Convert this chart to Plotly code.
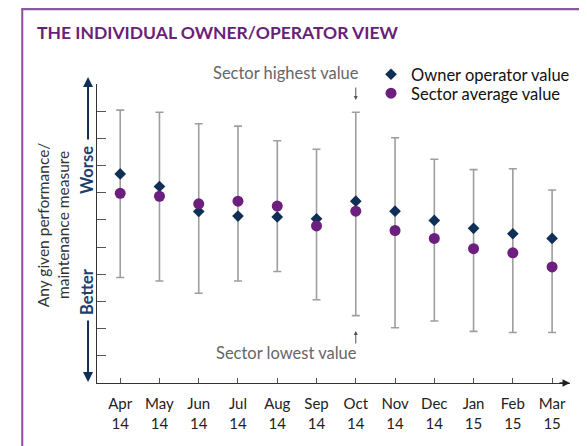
import plotly.graph_objects as go

# ---- data ----
months = ["Apr<br>14", "May<br>14", "Jun<br>14", "Jul<br>14", "Aug<br>14", "Sep<br>14",
          "Oct<br>14", "Nov<br>14", "Dec<br>14", "Jan<br>15", "Feb<br>15", "Mar<br>15"]
sector_high = [10.04, 9.96, 9.54, 9.45, 8.91, 8.60, 9.96, 9.02, 8.23, 7.85, 7.88, 7.10]
sector_low = [3.88, 3.75, 3.30, 3.75, 4.10, 3.06, 2.48, 2.03, 2.28, 1.90, 1.86, 1.86]
owner_value = [7.69, 7.23, 6.31, 6.14, 6.11, 6.04, 6.69, 6.32, 5.98, 5.69, 5.49, 5.32]
sector_avg = [6.98, 6.87, 6.59, 6.69, 6.51, 5.78, 6.32, 5.61, 5.32, 4.94, 4.79, 4.27]
y_ticks = list(range(1, 12))

FONT = "Lato"
NAVY = "#0f2f57"
PURPLE = "#6c1f7c"
GRAY = "#9e9e9e"

err_plus = [h - a for h, a in zip(sector_high, sector_avg)]
err_minus = [a - l for a, l in zip(sector_avg, sector_low)]

fig = go.Figure()

# range bars (sector highest / lowest)
fig.add_trace(go.Scatter(
    x=months, y=sector_avg, mode="markers",
    marker=dict(size=2, color="rgba(0,0,0,0)"),
    error_y=dict(type="data", symmetric=False, array=err_plus, arrayminus=err_minus,
                 color=GRAY, thickness=1.6, width=4),
    showlegend=False, hoverinfo="skip"))

fig.add_trace(go.Scatter(
    x=months, y=owner_value, mode="markers", name="Owner operator value",
    marker=dict(symbol="diamond", size=9, color=NAVY), legend="legend"))

fig.add_trace(go.Scatter(
    x=months, y=sector_avg, mode="markers", name="Sector average value",
    marker=dict(symbol="circle", size=11, color=PURPLE), legend="legend2"))

OFF = 8  # default page body margin
W, H = 587 - OFF, 446 - OFF
L, R, T, B = 97 - OFF, 571.7 - OFF, 84 - OFF, 383 - OFF
pw, ph = R - L, B - T


def px(xp):  # page pixel x -> paper
    return (xp - OFF - L) / pw


def py(yp):  # page pixel y -> paper
    return (B - (yp - OFF)) / ph


legend_style = dict(xanchor="left", yanchor="top", bgcolor="rgba(0,0,0,0)",
                    font=dict(family=FONT, size=16.5, color="#111"), itemwidth=30)

fig.update_layout(
    width=W, height=H,
    margin=dict(l=L, r=W - R, t=T, b=H - B, pad=0),
    paper_bgcolor="white", plot_bgcolor="white",
    font=dict(family=FONT, color="#222", size=14),
    title=dict(text="<b>THE INDIVIDUAL OWNER/OPERATOR VIEW</b>",
               x=(37 - OFF) / W, xanchor="left", y=1 - (33 - OFF) / H, yanchor="middle",
               font=dict(family=FONT, size=17.5, color="#6a1f78")),
    legend=dict(x=px(372), y=py(57), **legend_style),
    legend2=dict(x=px(372), y=py(76), **legend_style),
    showlegend=True,
)

fig.update_xaxes(
    type="category", range=[-0.591, 11.456],
    showline=True, linecolor="#333", linewidth=1.4,
    ticks="inside", ticklen=5, tickcolor="#555", tickwidth=1,
    showgrid=False, zeroline=False,
    tickfont=dict(family=FONT, size=15, color="#222"),
    ticklabelstandoff=7,
)
fig.update_yaxes(
    range=[0, 11], tickvals=y_ticks, showticklabels=False,
    showline=True, linecolor="#333", linewidth=1.4,
    ticks="inside", ticklen=9, tickcolor="#555", tickwidth=1,
    showgrid=False, zeroline=False,
)

ann = []
# x axis arrowhead
ann.append(dict(xref="paper", yref="paper", x=1, y=0, ax=-12, ay=0, text="",
                showarrow=True, arrowhead=2, arrowsize=1, arrowwidth=1.5, arrowcolor="#222"))
# worse / better arrows
ax_x = px(88)
ann.append(dict(xref="paper", yref="paper", x=ax_x, y=py(77), ax=0, ay=64, text="",
                showarrow=True, arrowhead=2, arrowsize=1, arrowwidth=2, arrowcolor=NAVY))
ann.append(dict(xref="paper", yref="paper", x=ax_x, y=py(382), ax=0, ay=-63, text="",
                showarrow=True, arrowhead=2, arrowsize=1, arrowwidth=2, arrowcolor=NAVY))
ann.append(dict(xref="paper", yref="paper", x=px(87), y=py(170), text="<b>Worse</b>",
                textangle=-90, showarrow=False, xanchor="center", yanchor="middle",
                font=dict(family=FONT, size=16.5, color="#1d3f6e")))
ann.append(dict(xref="paper", yref="paper", x=px(87), y=py(292), text="<b>Better</b>",
                textangle=-90, showarrow=False, xanchor="center", yanchor="middle",
                font=dict(family=FONT, size=16.5, color="#1d3f6e")))
# y title
ann.append(dict(xref="paper", yref="paper", x=px(53), y=py(225),
                text="Any given performance/<br>maintenance measure",
                textangle=-90, showarrow=False, xanchor="center", yanchor="middle",
                font=dict(family=FONT, size=15.5, color="#333")))
# sector highest / lowest labels
ann.append(dict(xref="paper", yref="paper", x=px(362), y=py(73), text="Sector highest value",
                showarrow=False, xanchor="right", yanchor="middle",
                font=dict(family=FONT, size=16.5, color="#666")))
ann.append(dict(xref="paper", yref="paper", x=px(360), y=py(353), text="Sector lowest value",
                showarrow=False, xanchor="right", yanchor="middle",
                font=dict(family=FONT, size=16.5, color="#666")))
ann.append(dict(x=months[6], y=(383 - 100) / 299 * 11, ax=0, ay=-14, text="",
                showarrow=True, arrowhead=2, arrowsize=0.8, arrowwidth=1, arrowcolor="#555"))
ann.append(dict(x=months[6], y=(383 - 331) / 299 * 11, ax=0, ay=14, text="",
                showarrow=True, arrowhead=2, arrowsize=0.8, arrowwidth=1, arrowcolor="#555"))
fig.update_layout(annotations=ann)

# frame
fig.update_layout(shapes=[
    dict(type="line", xref="paper", yref="paper", x0=px(22), x1=px(22), y0=py(450), y1=py(9),
         line=dict(color="#8b4f9a", width=2)),
    dict(type="line", xref="paper", yref="paper", x0=px(21), x1=px(587), y0=py(9), y1=py(9),
         line=dict(color="#8b5a9a", width=2.5)),
    dict(type="line", xref="paper", yref="paper", x0=px(585.5), x1=px(585.5), y0=py(450), y1=py(9),
         line=dict(color="#e6c8ef", width=1.5)),
])

fig.write_html("out.html")
